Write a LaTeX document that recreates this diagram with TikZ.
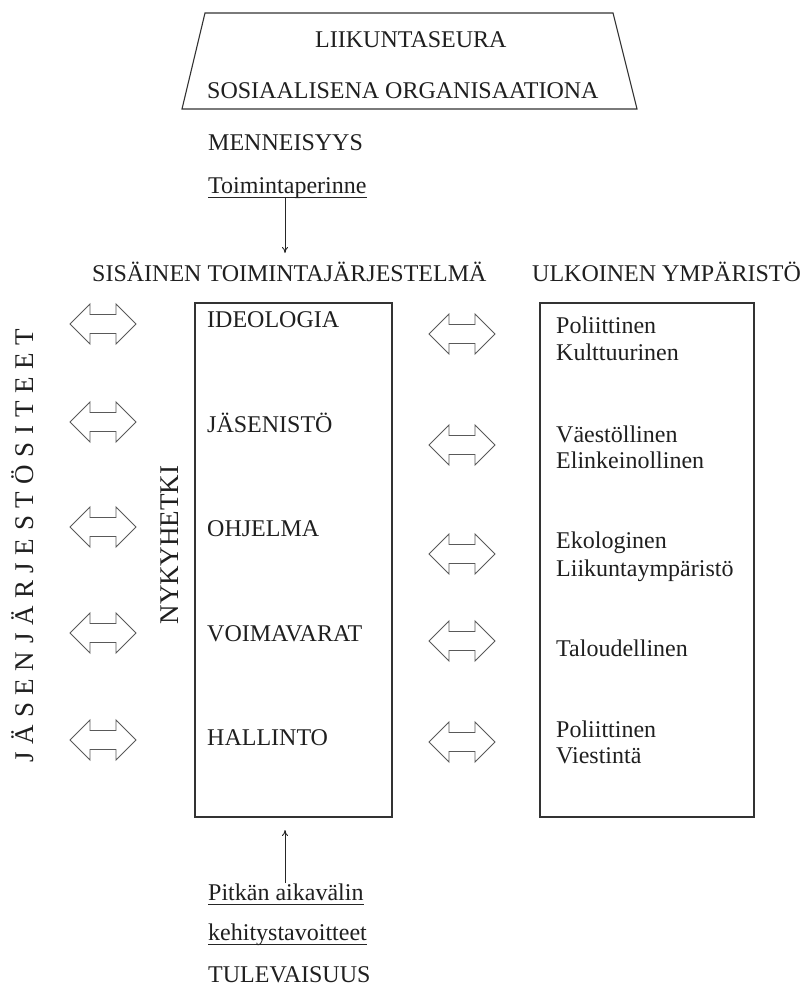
\documentclass[tikz,border=0pt]{standalone}
\usepackage{fontspec}
\setmainfont{Liberation Serif}
\usetikzlibrary{arrows.meta}
\begin{document}
\begin{tikzpicture}[x=1pt,y=-1pt,
  txt/.style={inner sep=0pt, anchor=base west, font=\fontsize{24}{28}\selectfont, text=black!88},
  vtxt/.style={inner sep=0pt, anchor=base, rotate=90, font=\fontsize{27}{30}\selectfont, text=black!88},
  box/.style={draw=black!80, line width=1.1pt},
  uline/.style={draw=black!85, line width=0.9pt},
  conn/.style={draw=black!85, line width=0.9pt, -{To[length=6pt,width=6pt]}},
  dbl/.pic={\draw[black!65, line width=0.9pt, line join=miter, fill=white]
     (-33,0) -- (-13,-20) -- (-13,-9.5) -- (13,-9.5) -- (13,-20) -- (33,0)
     -- (13,20) -- (13,9.5) -- (-13,9.5) -- (-13,20) -- cycle;}
]
\useasboundingbox (0,0) rectangle (810,986);

% title trapezoid
\draw[box] (205,13) -- (613,13) -- (637,109) -- (182,109) -- cycle;
\node[txt] (t1) at (315,47) {LIIKUNTASEURA};
\node[txt] (t2) at (207,98) {SOSIAALISENA ORGANISAATIONA};

% past
\node[txt] (men) at (208,150) {MENNEISYYS};
\node[txt] (tp) at (208,193) {Toimintaperinne};
\draw[uline] ([yshift=-4pt]tp.base west) -- ([yshift=-4pt]tp.base east);
\coordinate (a1s) at (285,197);
\coordinate (a1e) at (285,253);
\draw[conn] (a1s) -- (a1e);

% headers
\node[txt] (h1) at (92,281) {SISÄINEN TOIMINTAJÄRJESTELMÄ};
\node[txt] (h2) at (532,281) {ULKOINEN YMPÄRISTÖ};

% boxes
\draw[box] (195,303) rectangle (392,817);
\draw[box] (540,303) rectangle (754,817);

% middle box labels
\node[txt] (i1) at (207,327) {IDEOLOGIA};
\node[txt] (i2) at (207,432) {JÄSENISTÖ};
\node[txt] (i3) at (207,536) {OHJELMA};
\node[txt] (i4) at (207,641) {VOIMAVARAT};
\node[txt] (i5) at (207,745) {HALLINTO};

% right box labels
\node[txt] (r1a) at (556,333) {Poliittinen};
\node[txt] (r1b) at (556,360) {Kulttuurinen};
\node[txt] (r2a) at (556,442) {Väestöllinen};
\node[txt] (r2b) at (556,468) {Elinkeinollinen};
\node[txt] (r3a) at (556,548) {Ekologinen};
\node[txt] (r3b) at (556,576) {Liikuntaympäristö};
\node[txt] (r4a) at (556,656) {Taloudellinen};
\node[txt] (r5a) at (556,737) {Poliittinen};
\node[txt] (r5b) at (556,763) {Viestintä};

% rotated labels
\def\g{\kern7.6pt}
\node[vtxt] (js) at (33,546) {J\g Ä\g S\g E\g N\g J\g Ä\g R\g J\g E\g S\g T\g Ö\g S\g I\g T\g E\g E\g T};
\node[vtxt] (ny) at (178,545) {NYKYHETKI};

% double arrows, left column
\pic at (103,324) {dbl};
\pic at (103,422) {dbl};
\pic at (103,527) {dbl};
\pic at (103,633) {dbl};
\pic at (103,740) {dbl};

% double arrows, middle column
\pic at (462,334) {dbl};
\pic at (462,445) {dbl};
\pic at (462,554) {dbl};
\pic at (462,641) {dbl};
\pic at (462,742) {dbl};

% future
\coordinate (a2s) at (285,883);
\coordinate (a2e) at (285,830);
\draw[conn] (a2s) -- (a2e);
\node[txt] (pk1) at (208,900) {Pitkän aikavälin};
\draw[uline] ([yshift=-4pt]pk1.base west) -- ([yshift=-4pt]pk1.base east);
\node[txt] (pk2) at (208,940) {kehitystavoitteet};
\draw[uline] ([yshift=-4pt]pk2.base west) -- ([yshift=-4pt]pk2.base east);
\node[txt] (tul) at (208,982) {TULEVAISUUS};
\end{tikzpicture}
\end{document}
